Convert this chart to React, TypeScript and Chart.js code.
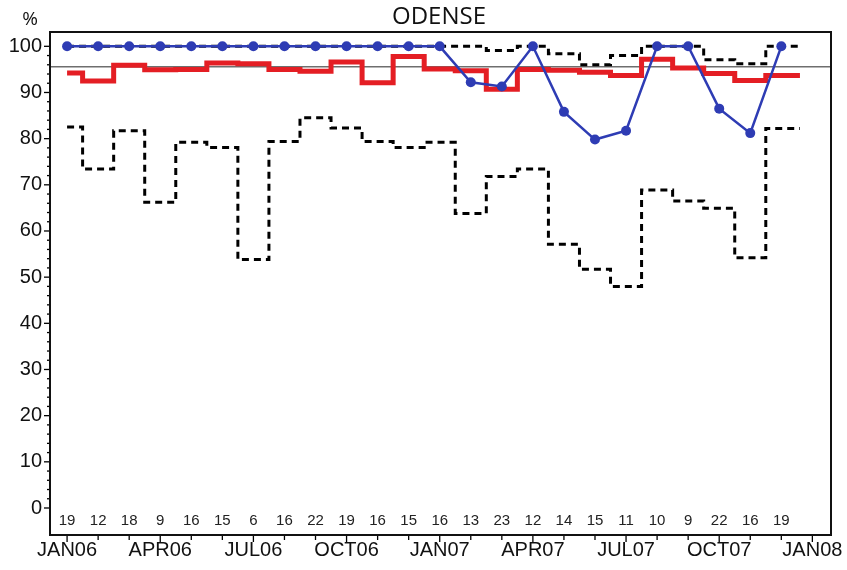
import React, { useEffect, useRef } from 'react';
import { Chart, registerables } from 'chart.js';

Chart.register(...registerables);

// ---- data ----
const months = [
  'JAN06', 'FEB06', 'MAR06', 'APR06', 'MAY06', 'JUN06', 'JUL06', 'AUG06', 'SEP06', 'OCT06', 'NOV06', 'DEC06',
  'JAN07', 'FEB07', 'MAR07', 'APR07', 'MAY07', 'JUN07', 'JUL07', 'AUG07', 'SEP07', 'OCT07', 'NOV07', 'DEC07',
];
const xTickLabels = ['JAN06', 'APR06', 'JUL06', 'OCT06', 'JAN07', 'APR07', 'JUL07', 'OCT07', 'JAN08'];
const xTickPositions = [0, 3, 6, 9, 12, 15, 18, 21, 24];
const yTickValues = [0, 10, 20, 30, 40, 50, 60, 70, 80, 90, 100];

const counts = [19, 12, 18, 9, 16, 15, 6, 16, 22, 19, 16, 15, 16, 13, 23, 12, 14, 15, 11, 10, 9, 22, 16, 19];
const observed = [100, 100, 100, 100, 100, 100, 100, 100, 100, 100, 100, 100, 100, 92.2, 91.3, 100, 85.8, 79.8, 81.7, 100, 100, 86.5, 81.2, 100];
const average = [94.2, 92.5, 95.9, 94.9, 95.0, 96.4, 96.2, 95.0, 94.6, 96.6, 92.1, 97.8, 95.1, 94.7, 90.7, 95.0, 94.8, 94.4, 93.7, 97.2, 95.3, 94.1, 92.6, 93.7];
const upperLimit = [100, 100, 100, 100, 100, 100, 100, 100, 100, 100, 100, 100, 100, 100, 99.1, 100, 98.4, 96.0, 98.0, 100, 100, 97.1, 96.2, 100];
const lowerLimit = [82.5, 73.4, 81.7, 66.2, 79.2, 78.1, 53.8, 79.4, 84.5, 82.3, 79.4, 78.1, 79.2, 63.8, 71.8, 73.4, 57.1, 51.7, 48.0, 68.9, 66.5, 64.9, 54.2, 82.2];
const referenceLevel = 95.6;
const titleText = 'ODENSE';
const yUnit = '%';

const X_MIN = -0.55;
const X_MAX = 24.6;
const STEP_END = 23.6;
const Y_MIN = -5.85;
const Y_MAX = 103.1;

const pts = (vals: number[]) => vals.map((v, i) => ({ x: i, y: v }));
const stepPts = (vals: number[]) => [...pts(vals), { x: STEP_END, y: vals[vals.length - 1] }];

const decorPlugin = {
  id: 'decor',
  beforeDatasetsDraw(chart: any) {
    const { ctx, chartArea } = chart;
    const xs = chart.scales.x;
    const ys = chart.scales.y;
    ctx.save();
    ctx.strokeStyle = '#000';
    ctx.lineWidth = 1.3;
    // y tick marks
    for (let v = 0; v <= 100; v += 2) {
      const y = ys.getPixelForValue(v);
      const len = v % 10 === 0 ? 6 : 3;
      ctx.beginPath();
      ctx.moveTo(chartArea.left - len, y);
      ctx.lineTo(chartArea.left, y);
      ctx.stroke();
    }
    // x tick marks (every month)
    for (let i = 0; i <= months.length; i++) {
      const x = xs.getPixelForValue(i);
      const len = i % 3 === 0 ? 7 : 5;
      ctx.beginPath();
      ctx.moveTo(x, chartArea.bottom);
      ctx.lineTo(x, chartArea.bottom + len);
      ctx.stroke();
    }
    ctx.restore();
  },
  afterDatasetsDraw(chart: any) {
    const { ctx, chartArea } = chart;
    const xs = chart.scales.x;
    ctx.save();
    // frame
    ctx.strokeStyle = '#111';
    ctx.lineWidth = 2;
    ctx.strokeRect(chartArea.left, chartArea.top, chartArea.right - chartArea.left, chartArea.bottom - chartArea.top);
    // counts
    ctx.fillStyle = '#222';
    ctx.font = '15px "Liberation Sans Narrow", "Liberation Sans", Arial, sans-serif';
    ctx.textAlign = 'center';
    ctx.textBaseline = 'middle';
    counts.forEach((c, i) => {
      ctx.fillText(String(c), xs.getPixelForValue(i), 521);
    });
    // title and unit
    ctx.fillStyle = '#111';
    ctx.textBaseline = 'alphabetic';
    ctx.font = '24px "Open Sans", sans-serif';
    ctx.fillText(titleText, 439, 24);
    ctx.font = '19px "Open Sans", sans-serif';
    ctx.fillText(yUnit, 30, 25);
    ctx.restore();
  },
};

export default function App() {
  const ref = useRef<HTMLCanvasElement | null>(null);
  useEffect(() => {
    if (!ref.current) return;
    const chart = new Chart(ref.current, {
      type: 'line',
      data: {
        datasets: [
          {
            label: 'Observed',
            data: pts(observed),
            borderColor: '#2E3CB4',
            backgroundColor: '#2E3CB4',
            borderWidth: 2.5,
            pointRadius: 5,
            pointBorderWidth: 0,
            pointBackgroundColor: '#2E3CB4',
            tension: 0,
          },
          {
            label: 'Average',
            data: stepPts(average),
            borderColor: '#E41E24',
            borderWidth: 5,
            pointRadius: 0,
            stepped: 'middle',
          },
          {
            label: 'Upper limit',
            data: stepPts(upperLimit),
            borderColor: '#000',
            borderWidth: 3,
            borderDash: [7, 5],
            pointRadius: 0,
            stepped: 'middle',
          },
          {
            label: 'Lower limit',
            data: stepPts(lowerLimit),
            borderColor: '#000',
            borderWidth: 3,
            borderDash: [7, 5],
            pointRadius: 0,
            stepped: 'middle',
          },
          {
            label: 'Reference',
            data: [{ x: X_MIN, y: referenceLevel }, { x: X_MAX, y: referenceLevel }],
            borderColor: '#6e6e6e',
            borderWidth: 1.5,
            pointRadius: 0,
          },
        ],
      },
      options: {
        animation: false,
        responsive: false,
        maintainAspectRatio: false,
        layout: { padding: { top: 32, right: 16, left: 0, bottom: 0 } },
        plugins: { legend: { display: false }, tooltip: { enabled: false }, title: { display: false } },
        scales: {
          x: {
            type: 'linear',
            min: X_MIN,
            max: X_MAX,
            afterBuildTicks: (scale: any) => {
              scale.ticks = xTickPositions.map((v) => ({ value: v }));
            },
            afterFit: (scale: any) => {
              scale.height = 35;
            },
            grid: { display: false, drawTicks: false },
            border: { display: false },
            ticks: {
              autoSkip: false,
              maxRotation: 0,
              minRotation: 0,
              padding: 3,
              color: '#111',
              font: { family: '"Liberation Sans", Arial, sans-serif', size: 20 },
              callback: (_v: any, i: number) => xTickLabels[i],
            },
          },
          y: {
            type: 'linear',
            min: Y_MIN,
            max: Y_MAX,
            afterBuildTicks: (scale: any) => {
              scale.ticks = yTickValues.map((v) => ({ value: v }));
            },
            afterFit: (scale: any) => {
              scale.width = 50;
            },
            grid: { display: false, drawTicks: false },
            border: { display: false },
            ticks: {
              padding: 8,
              color: '#111',
              font: { family: '"Liberation Sans", Arial, sans-serif', size: 20 },
              callback: (v: any) => String(v),
            },
          },
        },
      },
      plugins: [decorPlugin],
    });
    return () => chart.destroy();
  }, []);
  return (
    <div style={{ position: 'fixed', left: 0, top: 0, width: 847, height: 570, background: '#fff' }}>
      <canvas ref={ref} width={847} height={570} style={{ display: 'block' }} />
    </div>
  );
}
